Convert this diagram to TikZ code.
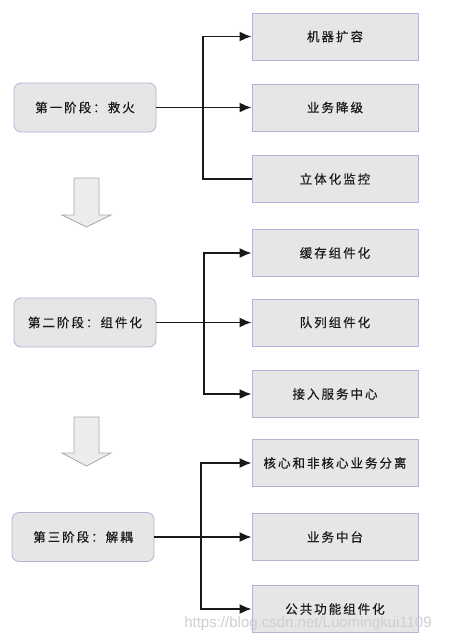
\documentclass[tikz,border=0pt]{standalone}
\usepackage{fontspec}
\newfontfamily\cjk[LetterSpace=16,FakeBold=0.4]{Noto Sans CJK SC}
\setsansfont{Liberation Sans}
\usetikzlibrary{arrows.meta}
\definecolor{boxfill}{HTML}{E6E6E6}
\definecolor{boxdraw}{HTML}{B3B3D6}
\definecolor{arrfill}{HTML}{ECECEC}
\definecolor{arrdraw}{HTML}{A8A8A8}
\definecolor{txt}{HTML}{1A1A1A}
\definecolor{wm}{HTML}{CFCFCF}
\begin{document}
\begin{tikzpicture}[x=1pt,y=-1pt,
  stage/.style={draw=boxdraw,fill=boxfill,line width=0.8pt,rounded corners=7pt,
    minimum width=142pt,minimum height=49pt,inner sep=0pt,font=\cjk\fontsize{12.5}{14}\selectfont,text=txt},
  item/.style={draw=boxdraw,fill=boxfill,line width=0.8pt,
    minimum width=166pt,minimum height=47pt,inner sep=0pt,font=\cjk\fontsize{12.5}{14}\selectfont,text=txt},
  conn/.style={draw=black!90,line width=1.8pt},
  arr/.style={conn,-{Latex[length=12pt,width=10pt]}},
  bigarrow/.style={draw=arrdraw,fill=arrfill,line width=0.8pt,line join=miter}]
\useasboundingbox (0,0) rectangle (449,643);
\fill[white] (0,0) rectangle (449,643);

% stage 1
\node[stage] (s1) at (85,107.5) {第一阶段：救火};
\node[item] (a1) at (335,36.5) {机器扩容};
\node[item] (a2) at (335,107.5) {业务降级};
\node[item] (a3) at (335,179) {立体化监控};
\coordinate (j1) at (203,107.5);
\draw[arr] (s1.east) -- (a2.west);
\draw[arr] (j1) |- (a1.west);
\draw[conn] (j1) |- (a3.west);

% arrow 1
\path[bigarrow] (74,178) -- (99,178) -- (99,215) -- (111,215) -- (86.5,227) -- (62,215) -- (74,215) -- cycle;

% stage 2
\node[stage] (s2) at (85,322.5) {第二阶段：组件化};
\node[item] (b1) at (335,253) {缓存组件化};
\node[item] (b2) at (335,322.5) {队列组件化};
\node[item] (b3) at (335,394) {接入服务中心};
\coordinate (j2) at (204,322.5);
\draw[arr] (s2.east) -- (b2.west);
\draw[arr] (j2) |- (b1.west);
\draw[arr] (j2) |- (b3.west);

% arrow 2
\path[bigarrow] (74,417) -- (99,417) -- (99,453) -- (111,453) -- (86.5,466) -- (62,453) -- (74,453) -- cycle;

% stage 3
\node[stage] (s3) at (83,537) {第三阶段：解耦};
\node[item] (c1) at (335,463) {核心和非核心业务分离};
\node[item] (c2) at (335,537) {业务中台};
\node[item] (c3) at (335,609) {公共功能组件化};
\coordinate (j3) at (201,537);
\draw[arr] (s3.east) -- (c2.west);
\draw[arr] (j3) |- (c1.west);
\draw[arr] (j3) |- (c3.west);

% watermark
\node[text=wm,font=\sffamily\fontsize{15}{17}\selectfont,inner sep=0pt] (wmk) at (308,624) {https://blog.csdn.net/Luomingkui1109};
\end{tikzpicture}
\end{document}
